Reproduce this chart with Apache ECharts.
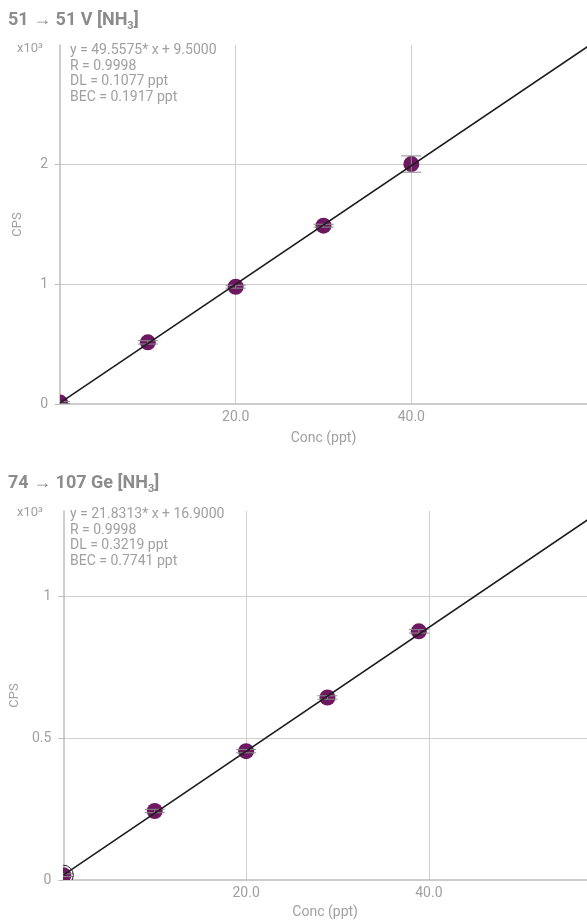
<!DOCTYPE html>
<html><head><meta charset="utf-8">
<script src="https://cdn.jsdelivr.net/npm/echarts@6/dist/echarts.min.js"></script>
<style>html,body{margin:0;padding:0;background:#fff}#c{width:587px;height:923px}</style>
</head><body><div id="c"></div>
<script>
// ---- Data (CPS in units of x10^3) ----
const vConc = [0, 10, 20, 30, 40];
const vCps = [0.012, 0.515, 0.98, 1.49, 2.005];
const vErr = [0.008, 0.014, 0.012, 0.012, 0.068];
const vFit = [[0, 0.0095], [61, 3.033]];

const geConc = [0, 10, 20, 28.9, 38.9];
const geCps = [0.017, 0.243, 0.454, 0.643, 0.876];
const geErr = [0.005, 0.006, 0.006, 0.006, 0.006];
const geFit = [[0, 0.0169], [58, 1.283]];
const geExcluded = [[0, 0.017]];

const titleMain = ['51 \u2192 51 V [NH', '74 \u2192 107 Ge [NH'];
const titleSub = ['3', '3'];
const notes = [
  ['y = 49.5575* x + 9.5000', 'R = 0.9998', 'DL = 0.1077 ppt', 'BEC = 0.1917 ppt'],
  ['y = 21.8313* x + 16.9000', 'R = 0.9998', 'DL = 0.3219 ppt', 'BEC = 0.7741 ppt']
];
const xTicks = [20, 60, 20, 57.3]; // interval, max for each panel
const yTicks = [1, 3, 0.5, 1.3];

const PURPLE = '#6e1862';
const TXT = '#a0a0a0';
const GRID = '#cfcfcf';
const AXIS = '#bcbcbc';
const FONT = 'Roboto';

function zip(a, b, c) { return a.map((v, i) => c ? [v, b[i], c[i]] : [v, b[i]]); }

function pointItem(params, api) {
  const x = api.value(0), y = api.value(1), e = api.value(2);
  const c = api.coord([x, y]);
  const hi = api.coord([x, y + e]);
  const lo = api.coord([x, y - e]);
  const cap = 10;
  return { type: 'group', children: [
    { type: 'circle', shape: { cx: c[0], cy: c[1], r: 8 }, style: { fill: PURPLE } },
    { type: 'line', shape: { x1: c[0], y1: hi[1], x2: c[0], y2: lo[1] }, style: { stroke: '#8a8a8a', lineWidth: 1 } },
    { type: 'line', shape: { x1: c[0] - cap, y1: hi[1], x2: c[0] + cap, y2: hi[1] }, style: { stroke: '#8a8a8a', lineWidth: 1 } },
    { type: 'line', shape: { x1: c[0] - cap, y1: lo[1], x2: c[0] + cap, y2: lo[1] }, style: { stroke: '#8a8a8a', lineWidth: 1 } }
  ]};
}
function ringItem(params, api) {
  const c = api.coord([api.value(0), api.value(1)]);
  return { type: 'circle', shape: { cx: c[0], cy: c[1], r: 10 }, style: { fill: 'none', stroke: '#222', lineWidth: 1 } };
}

function xAxis(i, gap) {
  return {
    type: 'value', gridIndex: i, min: 0, max: xTicks[i * 2 + 1], interval: xTicks[i * 2],
    axisLine: { show: true, lineStyle: { color: AXIS, width: 1.5 } },
    axisTick: { show: false },
    axisLabel: { color: TXT, fontSize: 14, fontFamily: FONT, margin: 6, showMinLabel: false, showMaxLabel: false,
      formatter: v => v.toFixed(1) },
    splitLine: { show: true, showMinLine: false, showMaxLine: false, lineStyle: { color: GRID, width: 1 } },
    name: 'Conc (ppt)', nameLocation: 'middle', nameGap: gap,
    nameTextStyle: { color: TXT, fontSize: 14, fontFamily: FONT }
  };
}
function yAxis(i) {
  return {
    type: 'value', gridIndex: i, min: 0, max: yTicks[i * 2 + 1], interval: yTicks[i * 2],
    axisLine: { show: true, lineStyle: { color: AXIS, width: 1.5 } },
    axisTick: { show: true, length: 5, lineStyle: { color: AXIS } },
    axisLabel: { color: TXT, fontSize: 14, fontFamily: FONT, margin: 12, showMaxLabel: false },
    splitLine: { show: true, showMinLine: false, showMaxLine: false, lineStyle: { color: GRID, width: 1 } },
    name: 'CPS', nameLocation: 'middle', nameGap: 36, nameRotate: 90,
    nameTextStyle: { color: TXT, fontSize: 13, fontFamily: FONT }
  };
}
const titleRich = {
  a: { fontSize: 18, fontWeight: 'bold', color: '#8c8c8c', fontFamily: FONT, lineHeight: 24 },
  s: { fontSize: 11, fontWeight: 'bold', color: '#8c8c8c', fontFamily: FONT, verticalAlign: 'bottom' }
};

const chart = echarts.init(document.getElementById('c'), null, { renderer: 'canvas' });
chart.setOption({
  animation: false,
  backgroundColor: '#fff',
  title: [0, 1].map(i => ({
    text: '{a|' + titleMain[i] + '}{s|' + titleSub[i] + '}{a|]}',
    left: 3, top: i === 0 ? 3 : 466,
    textStyle: { rich: titleRich }
  })),
  grid: [
    { left: 60, top: 45, width: 527, height: 359 },
    { left: 60, top: 511, width: 527, height: 369 }
  ],
  xAxis: [xAxis(0, 27), xAxis(1, 25)],
  yAxis: [yAxis(0), yAxis(1)],
  graphic: [0, 1].flatMap(i => [
    { type: 'text', x: 17, y: i === 0 ? 42 : 506,
      style: { text: 'x10\u00b3', fill: TXT, fontSize: 13, fontFamily: FONT } },
    { type: 'text', x: 70, y: i === 0 ? 43 : 507,
      style: { text: notes[i].join('\n'), fill: TXT, fontSize: 14, fontFamily: FONT, lineHeight: 15.5 } }
  ]),
  series: [
    { type: 'custom', xAxisIndex: 0, yAxisIndex: 0, clip: true, data: zip(vConc, vCps, vErr), renderItem: pointItem, z: 2 },
    { type: 'line', xAxisIndex: 0, yAxisIndex: 0, data: vFit, showSymbol: false, clip: true,
      lineStyle: { color: '#1c1c1c', width: 1.6 }, z: 3 },
    { type: 'custom', xAxisIndex: 1, yAxisIndex: 1, clip: true, data: zip(geConc, geCps, geErr), renderItem: pointItem, z: 2 },
    { type: 'custom', xAxisIndex: 1, yAxisIndex: 1, clip: true, data: geExcluded, renderItem: ringItem, z: 3 },
    { type: 'line', xAxisIndex: 1, yAxisIndex: 1, data: geFit, showSymbol: false, clip: true,
      lineStyle: { color: '#1c1c1c', width: 1.6 }, z: 3 }
  ]
});
</script></body></html>
